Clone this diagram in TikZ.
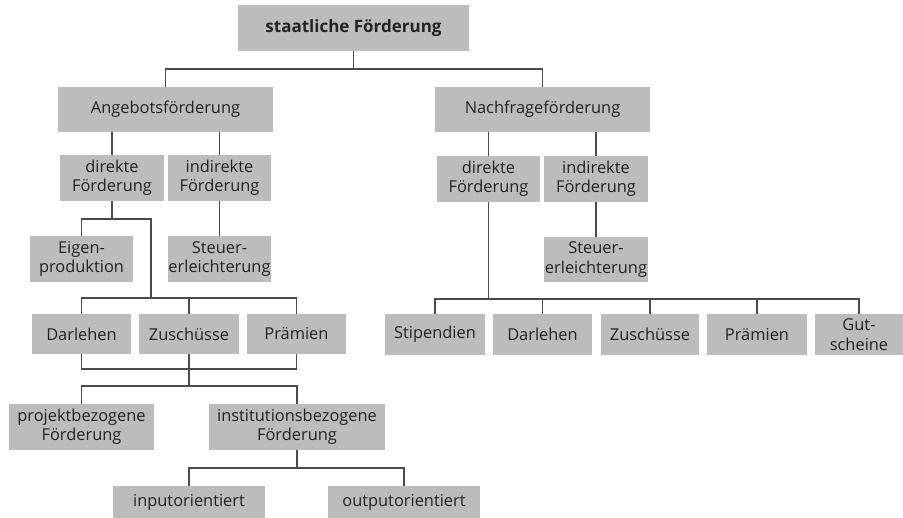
\documentclass[tikz,border=0pt]{standalone}
\usepackage{fontspec}
\setmainfont{Open Sans}
\definecolor{boxgray}{RGB}{188,188,188}
\definecolor{linegray}{RGB}{75,75,75}
\definecolor{textgray}{RGB}{35,35,35}

\begin{document}
\begin{tikzpicture}[x=0.3mm,y=-0.3mm,
  feld/.style 2 args={fill=boxgray,text=textgray,inner sep=0pt,align=center,
    minimum width=#1*0.3mm,minimum height=#2*0.3mm,
    font=\fontsize{14}{16.5}\selectfont},
  ast/.style={draw=linegray,line width=1.1pt}]
\useasboundingbox (0,0) rectangle (903,518);
\fill[white] (0,0) rectangle (903,518);
% Kopf
\node[feld={231}{46},font=\fontsize{14.5}{16}\selectfont\bfseries] (staat) at (353.5,28) {staatliche Förderung};
\node[feld={215}{45}] (angebot) at (165.5,109.5) {Angebotsförderung};
\node[feld={215}{45}] (nachfrage) at (542.5,109.5) {Nachfrageförderung};
% Angebotsseite
\node[feld={104}{46}] (ldir) at (112,178) {direkte\\Förderung};
\node[feld={103}{46}] (lind) at (219.5,178) {indirekte\\Förderung};
\node[feld={103}{46}] (eigen) at (81.5,259) {Eigen-\\produktion};
\node[feld={103}{46}] (lsteuer) at (219.5,259) {Steuer-\\erleichterung};
\node[feld={99}{40}] (ldar) at (81.5,334) {Darlehen};
\node[feld={100}{40}] (lzus) at (189,334) {Zuschüsse};
\node[feld={99}{40}] (lpra) at (296.5,334) {Prämien};
\node[feld={145}{46}] (projekt) at (81.5,427) {projektbezogene\\Förderung};
\node[feld={176}{46}] (inst) at (297,427) {institutionsbezogene\\Förderung};
\node[feld={152}{32}] (input) at (189,502) {inputorientiert};
\node[feld={152}{32}] (output) at (404,502) {outputorientiert};
% Nachfrageseite
\node[feld={103}{46}] (rdir) at (488.5,179) {direkte\\Förderung};
\node[feld={104}{46}] (rind) at (596,179) {indirekte\\Förderung};
\node[feld={104}{45}] (rsteuer) at (596,259.5) {Steuer-\\erleichterung};
\node[feld={100}{41}] (rstip) at (435,334.5) {Stipendien};
\node[feld={99}{41}] (rdar) at (542.5,334.5) {Darlehen};
\node[feld={98}{41}] (rzus) at (650,334.5) {Zuschüsse};
\node[feld={100}{41}] (rpra) at (757,334.5) {Prämien};
\node[feld={88}{41}] (rgut) at (859,334.5) {Gut-\\scheine};
% Verzweigungen
\coordinate (k1) at (353.5,69);
\coordinate (k2) at (112,219);
\coordinate (k3) at (151,298);
\coordinate (k4) at (189,369);
\coordinate (k5) at (189,386);
\coordinate (k6) at (297,468);
\coordinate (k7) at (488.5,299);
\draw[ast] (staat) -- (k1);
\draw[ast] (angebot.north) |- (k1) -| (nachfrage.north);
\draw[ast] (ldir.north) -- (ldir.north |- angebot.south);
\draw[ast] (lind.north) -- (lind.north |- angebot.south);
\draw[ast] (rdir.north) -- (rdir.north |- nachfrage.south);
\draw[ast] (rind.north) -- (rind.north |- nachfrage.south);
\draw[ast] (lind) -- (lsteuer);
\draw[ast] (rind) -- (rsteuer);
\draw[ast] (ldir) -- (k2);
\draw[ast] (eigen.north) |- (k2) -| (k3);
\draw[ast] (ldar.north) |- (k3) -| (lpra.north);
\draw[ast] (lzus.north) -- (lzus.north |- k3);
\draw[ast] (ldar.south) |- (k4) -| (lpra.south);
\draw[ast] (lzus) -- (k5);
\draw[ast] (projekt.north) |- (k5) -| (inst.north);
\draw[ast] (inst) -- (k6);
\draw[ast] (input.north) |- (k6) -| (output.north);
\draw[ast] (rdir) -- (k7);
\draw[ast] (rstip.north) |- (k7) -| (rgut.north);
\draw[ast] (rdar.north) -- (rdar.north |- k7);
\draw[ast] (rzus.north) -- (rzus.north |- k7);
\draw[ast] (rpra.north) -- (rpra.north |- k7);
\end{tikzpicture}
\end{document}
